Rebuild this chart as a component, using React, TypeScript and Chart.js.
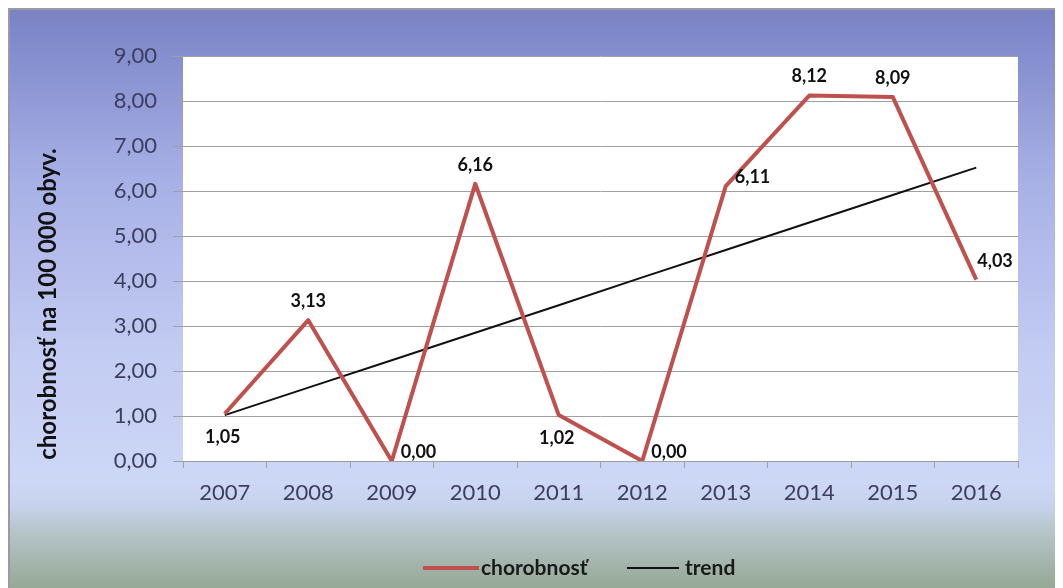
import React, { useEffect, useRef } from 'react';
import { Chart, registerables } from 'chart.js';

Chart.register(...registerables);

const years = ['2007', '2008', '2009', '2010', '2011', '2012', '2013', '2014', '2015', '2016'];
const incidence = [1.05, 3.13, 0.0, 6.16, 1.02, 0.0, 6.11, 8.12, 8.09, 4.03];
const trendValues = [1.02, 1.63, 2.24, 2.85, 3.46, 4.08, 4.69, 5.3, 5.91, 6.52];
const seriesNames = ['chorobnosť', 'trend'];
const axisTitle = 'chorobnosť na 100 000 obyv.';
const yMin = 0;
const yMax = 9;
const yStep = 1;
const labelPlacement = ['below', 'above', 'right', 'above', 'below', 'right', 'right', 'above', 'above', 'aboveRight'];

const FONT = 'Lato, "Open Sans", sans-serif';
const fmt = (v: number) => v.toFixed(2).replace('.', ',');

const bgPlugin = {
  id: 'bgPlugin',
  beforeDraw(chart: any) {
    const { ctx, width, height, chartArea } = chart;
    ctx.save();
    const g = ctx.createLinearGradient(0, 0, 0, height);
    g.addColorStop(0, '#7a82c4');
    g.addColorStop(0.05, '#8089cb');
    g.addColorStop(0.3, '#a8b1e6');
    g.addColorStop(0.6, '#c3ccf2');
    g.addColorStop(0.82, '#cdd7f6');
    g.addColorStop(0.86, '#c6d2ec');
    g.addColorStop(0.9, '#b7c6cb');
    g.addColorStop(1, '#95a995');
    ctx.fillStyle = g;
    ctx.fillRect(0, 0, width, height);
    ctx.fillStyle = '#ffffff';
    ctx.fillRect(chartArea.left, chartArea.top, chartArea.right - chartArea.left, chartArea.bottom - chartArea.top);
    ctx.strokeStyle = '#9a9aa6';
    ctx.lineWidth = 2;
    ctx.beginPath();
    ctx.moveTo(1, height);
    ctx.lineTo(1, 1);
    ctx.lineTo(width, 1);
    ctx.stroke();
    ctx.restore();
  },
  afterDatasetsDraw(chart: any) {
    const { ctx } = chart;
    const meta = chart.getDatasetMeta(0);
    ctx.save();
    ctx.font = `bold 18px ${FONT}`;
    ctx.fillStyle = '#111111';
    ctx.textBaseline = 'middle';
    meta.data.forEach((pt: any, i: number) => {
      const txt = fmt(incidence[i]);
      const p = labelPlacement[i];
      if (p === 'below') {
        ctx.textAlign = 'center';
        ctx.fillText(txt, pt.x - 2, pt.y + 23);
      } else if (p === 'above') {
        ctx.textAlign = 'center';
        ctx.fillText(txt, pt.x, pt.y - 19);
      } else if (p === 'right') {
        ctx.textAlign = 'left';
        ctx.fillText(txt, pt.x + 9, pt.y - 9);
      } else {
        ctx.textAlign = 'left';
        ctx.fillText(txt, pt.x + 1, pt.y - 18);
      }
    });
    ctx.restore();
  },
  afterDraw(chart: any) {
    const { ctx } = chart;
    ctx.save();
    // axis title
    ctx.translate(40, 296);
    ctx.rotate(-Math.PI / 2);
    ctx.font = `bold 24px ${FONT}`;
    ctx.fillStyle = '#111111';
    ctx.textAlign = 'center';
    ctx.textBaseline = 'middle';
    ctx.fillText(axisTitle, 0, 0);
    ctx.restore();

    // legend
    ctx.save();
    const ly = 560;
    ctx.lineWidth = 4;
    ctx.strokeStyle = '#c0504d';
    ctx.beginPath();
    ctx.moveTo(415, ly);
    ctx.lineTo(471, ly);
    ctx.stroke();
    ctx.lineWidth = 2;
    ctx.strokeStyle = '#111111';
    ctx.beginPath();
    ctx.moveTo(619, ly);
    ctx.lineTo(671, ly);
    ctx.stroke();
    ctx.font = `bold 21px ${FONT}`;
    ctx.fillStyle = '#1a1a1a';
    ctx.textAlign = 'left';
    ctx.textBaseline = 'middle';
    ctx.fillText(seriesNames[0], 473, ly);
    ctx.fillText(seriesNames[1], 677, ly);
    ctx.restore();
  },
};

export default function App() {
  const ref = useRef<HTMLCanvasElement | null>(null);
  useEffect(() => {
    if (!ref.current) return;
    const chart = new Chart(ref.current, {
      type: 'line',
      data: {
        labels: years,
        datasets: [
          {
            label: seriesNames[0],
            data: incidence,
            borderColor: '#c0504d',
            backgroundColor: '#c0504d',
            borderWidth: 4,
            pointRadius: 0,
            borderJoinStyle: 'round',
            tension: 0,
          },
          {
            label: seriesNames[1],
            data: trendValues,
            borderColor: '#111111',
            backgroundColor: '#111111',
            borderWidth: 2,
            pointRadius: 0,
            tension: 0,
          },
        ],
      },
      options: {
        responsive: false,
        animation: false,
        layout: { padding: { top: 48, right: 45, left: 0, bottom: 0 } },
        plugins: { legend: { display: false }, tooltip: { enabled: false } },
        scales: {
          x: {
            offset: true,
            grid: { display: true, drawOnChartArea: false, drawTicks: true, tickLength: 7, offset: true, color: '#a0a0a0' },
            border: { display: true, color: '#a0a0a0', width: 1 },
            ticks: { color: '#3b3f5c', font: { family: FONT, size: 22 }, padding: 12, maxRotation: 0 },
            afterFit: (s: any) => { s.height = 127; },
          },
          y: {
            min: yMin,
            max: yMax,
            grid: { color: '#a0a0a0', lineWidth: 1, tickLength: 10, drawTicks: true },
            border: { display: false },
            ticks: {
              stepSize: yStep,
              color: '#3b3f5c',
              font: { family: FONT, size: 22 },
              padding: 16,
              callback: (v: any) => fmt(Number(v)),
            },
            afterFit: (s: any) => { s.width = 175; },
          },
        },
      },
      plugins: [bgPlugin],
    } as any);
    return () => chart.destroy();
  }, []);
  return (
    <div style={{ width: 1055, height: 580 }}>
      <canvas ref={ref} width={1055} height={580} style={{ display: 'block' }} />
    </div>
  );
}
